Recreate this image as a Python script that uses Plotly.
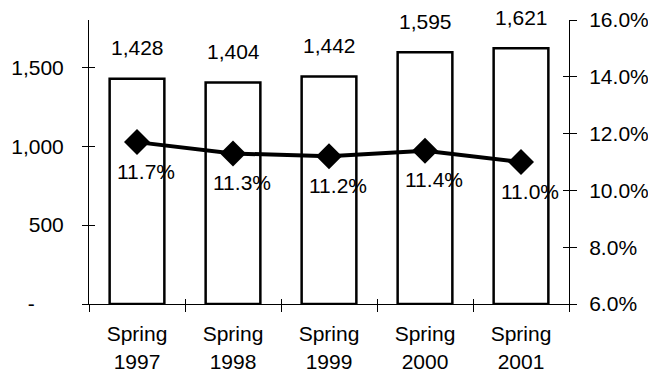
import plotly.graph_objects as go

# Enrollment counts (left axis) and share percentages (right axis)
terms = ["Spring<br>1997", "Spring<br>1998", "Spring<br>1999", "Spring<br>2000", "Spring<br>2001"]
counts = [1428, 1404, 1442, 1595, 1621]
shares = [11.7, 11.3, 11.2, 11.4, 11.0]

count_ticks = [0, 500, 1000, 1500]
count_ticktext = ["-" + "\u00a0" * 5, "500", "1,000", "1,500"]

FONT = "Arial, Liberation Sans, sans-serif"
FS = 21
BLACK = "#000000"

fig = go.Figure()

fig.add_trace(go.Bar(
    x=terms, y=counts, width=0.57,
    marker=dict(color="white", line=dict(color=BLACK, width=2.5)),
    showlegend=False, hoverinfo="skip",
))

fig.add_trace(go.Scatter(
    x=terms, y=shares, yaxis="y2", mode="lines+markers",
    line=dict(color=BLACK, width=4),
    marker=dict(symbol="diamond", size=20, color=BLACK),
    showlegend=False, hoverinfo="skip",
))

# empty helper traces so the cross-tick overlay axes get drawn
for ax in (dict(xaxis="x2", yaxis="y"), dict(xaxis="x", yaxis="y3"), dict(xaxis="x", yaxis="y4")):
    fig.add_trace(go.Scatter(x=[terms[0]] if ax["xaxis"] == "x" else [0], y=[None],
                             mode="markers", showlegend=False, hoverinfo="skip", **ax))

annotations = []
for t, c in zip(terms, counts):
    annotations.append(dict(
        x=t, y=c, xref="x", yref="y", text=f"{c:,}", showarrow=False,
        yanchor="middle", yshift=31, font=dict(family=FONT, size=FS, color=BLACK),
    ))
for t, s in zip(terms, shares):
    annotations.append(dict(
        x=t, y=s, xref="x", yref="y2", text=f"{s:.1f}%", showarrow=False,
        yanchor="middle", yshift=-29, xshift=9, font=dict(family=FONT, size=FS, color=BLACK),
    ))

n = len(terms)
boundaries = [i - 0.5 for i in range(n + 1)]

common = dict(showgrid=False, zeroline=False, automargin=False, tickcolor=BLACK)

fig.update_layout(
    width=648, height=376,
    margin=dict(l=89, r=79, t=20, b=72),
    paper_bgcolor="white", plot_bgcolor="white",
    font=dict(family=FONT, size=FS, color=BLACK),
    bargap=0.43,
    annotations=annotations,
    xaxis=dict(
        type="category", range=[-0.5, n - 0.5],
        showline=True, linecolor=BLACK, linewidth=1,
        ticks="outside", tickson="boundaries", ticklen=7,
        ticklabelstandoff=11, **common,
    ),
    xaxis2=dict(
        overlaying="x", anchor="y", range=[-0.5, n - 0.5],
        tickvals=boundaries, ticks="inside", ticklen=5,
        showticklabels=False, showline=False, **common,
    ),
    yaxis=dict(
        range=[0, 1800], tickvals=count_ticks, ticktext=count_ticktext,
        showline=True, linecolor=BLACK, linewidth=1,
        ticks="outside", ticklen=6,
        ticklabelstandoff=14, **common,
    ),
    yaxis3=dict(
        overlaying="y", anchor="x", side="left", range=[0, 1800],
        tickvals=count_ticks, ticks="inside", ticklen=6,
        showticklabels=False, showline=False, **common,
    ),
    yaxis2=dict(
        overlaying="y", side="right", anchor="x", range=[6, 16],
        tick0=6, dtick=2, tickformat=".1f", ticksuffix="%",
        showline=True, linecolor=BLACK, linewidth=1,
        ticks="outside", ticklen=7,
        ticklabelstandoff=8, **common,
    ),
    yaxis4=dict(
        overlaying="y", side="right", anchor="x", range=[6, 16],
        tick0=6, dtick=2, ticks="inside", ticklen=6,
        showticklabels=False, showline=False, **common,
    ),
)

fig.write_html("out.html")
